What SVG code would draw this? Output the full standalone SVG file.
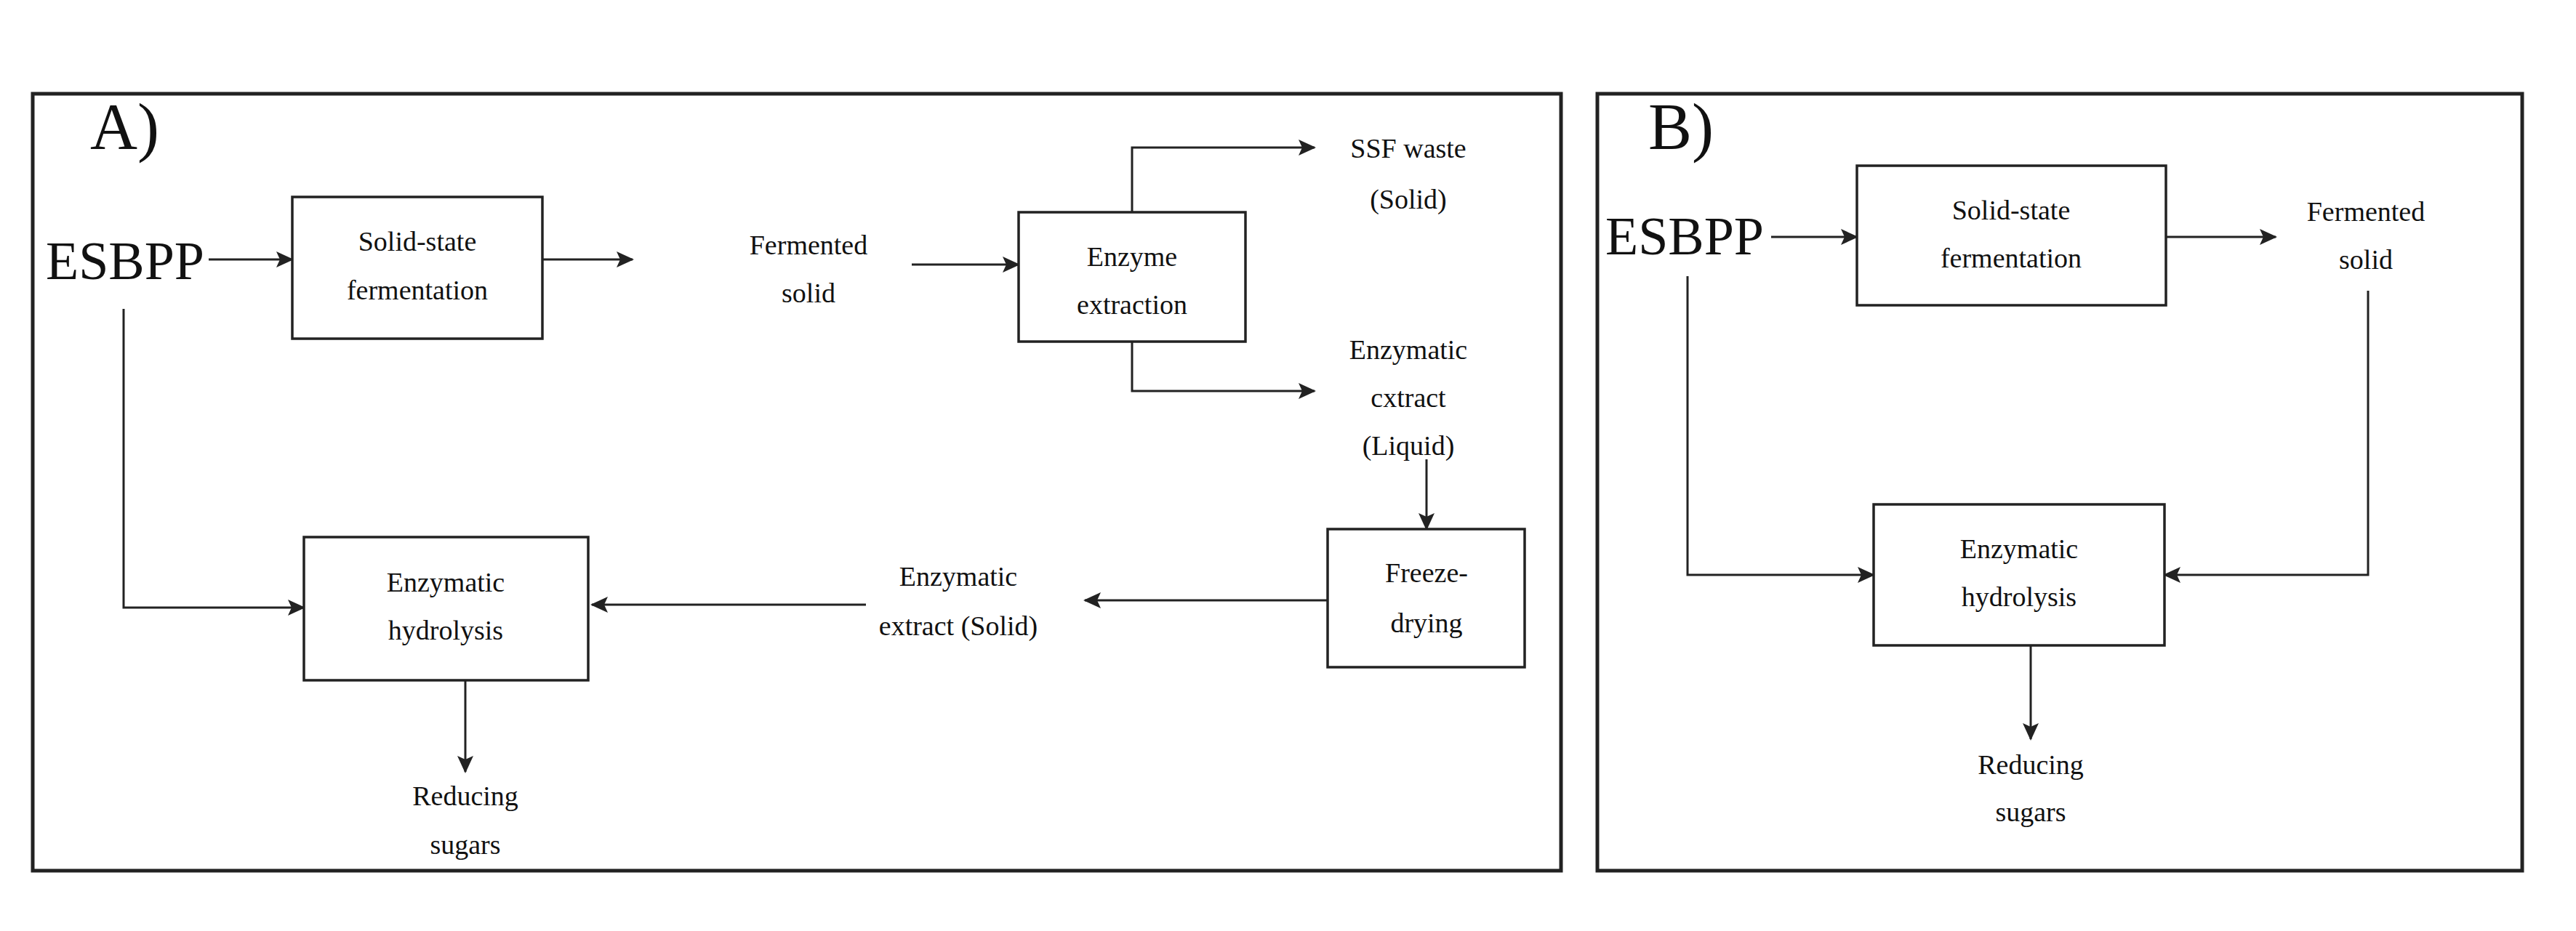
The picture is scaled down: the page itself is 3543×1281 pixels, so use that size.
<svg xmlns="http://www.w3.org/2000/svg" width="3543" height="1281" viewBox="0 0 3543 1281">
<style>
text{font-family:"Liberation Serif","DejaVu Serif","Times New Roman",serif;font-size:38px;fill:#111;text-anchor:middle}
.big{font-size:74px;text-anchor:start}
.lbl{font-size:90px;text-anchor:start}
.box{fill:#fff;stroke:#222;stroke-width:3.5}
.panel{fill:#fff;stroke:#222;stroke-width:5}
.c{fill:none;stroke:#222;stroke-width:3;marker-end:url(#ah)}
</style>
<defs><marker id="ah" markerWidth="24" markerHeight="22" refX="22" refY="11" orient="auto" markerUnits="userSpaceOnUse" viewBox="0 0 24 22"><path d="M0,0 L24,11 L0,22 L5,11 z" fill="#222"/></marker>
</defs>
<rect width="3543" height="1281" fill="#fff"/>
<rect class="panel" x="45" y="129" width="2102" height="1069"/>
<rect class="panel" x="2197" y="129" width="1272" height="1069"/>
<g id="labelA"><text class="lbl" x="124" y="205">A)</text></g>
<g id="labelB"><text class="lbl" x="2267" y="205">B)</text></g>
<g id="connectors">
<path class="c" d="M287,357 H402"/>
<path class="c" d="M746,357 H870"/>
<path class="c" d="M1254,364 H1401"/>
<path class="c" d="M1557,292 V203 H1808"/>
<path class="c" d="M1557,470 V538 H1808"/>
<path class="c" d="M1962,632 V728"/>
<path class="c" d="M1826,826 H1492"/>
<path class="c" d="M1191,832 H814"/>
<path class="c" d="M170,425 V836 H418"/>
<path class="c" d="M640,936 V1062"/>
<path class="c" d="M2436,326 H2554"/>
<path class="c" d="M2979,326 H3130"/>
<path class="c" d="M3257,400 V791 H2977"/>
<path class="c" d="M2321,380 V791 H2577"/>
<path class="c" d="M2793,888 V1017"/>
</g>
<g id="esbppA"><text class="big" x="63" y="384">ESBPP</text></g>
<g id="ssfA"><rect class="box" x="402" y="271" width="344" height="195"/><text x="574" y="345">Solid-state</text><text x="574" y="412">fermentation</text></g>
<g id="fermA"><text x="1112" y="350">Fermented</text><text x="1112" y="416">solid</text></g>
<g id="extrA"><rect class="box" x="1401" y="292" width="312" height="178"/><text x="1557" y="366">Enzyme</text><text x="1557" y="432">extraction</text></g>
<g id="wasteA"><text x="1937" y="217">SSF waste</text><text x="1937" y="287">(Solid)</text></g>
<g id="liqA"><text x="1937" y="494">Enzymatic</text><text x="1937" y="560">cxtract</text><text x="1937" y="626">(Liquid)</text></g>
<g id="freezeA"><rect class="box" x="1826" y="728" width="271" height="190"/><text x="1962" y="801">Freeze-</text><text x="1962" y="870">drying</text></g>
<g id="solA"><text x="1318" y="806">Enzymatic</text><text x="1318" y="874">extract (Solid)</text></g>
<g id="hydA"><rect class="box" x="418" y="739" width="391" height="197"/><text x="613" y="814">Enzymatic</text><text x="613" y="880">hydrolysis</text></g>
<g id="redA"><text x="640" y="1108">Reducing</text><text x="640" y="1175">sugars</text></g>
<g id="esbppB"><text class="big" x="2208" y="350">ESBPP</text></g>
<g id="ssfB"><rect class="box" x="2554" y="228" width="425" height="192"/><text x="2766" y="302">Solid-state</text><text x="2766" y="368">fermentation</text></g>
<g id="fermB"><text x="3254" y="304">Fermented</text><text x="3254" y="370">solid</text></g>
<g id="hydB"><rect class="box" x="2577" y="694" width="400" height="194"/><text x="2777" y="768">Enzymatic</text><text x="2777" y="834">hydrolysis</text></g>
<g id="redB"><text x="2793" y="1065">Reducing</text><text x="2793" y="1130">sugars</text></g>
</svg>
